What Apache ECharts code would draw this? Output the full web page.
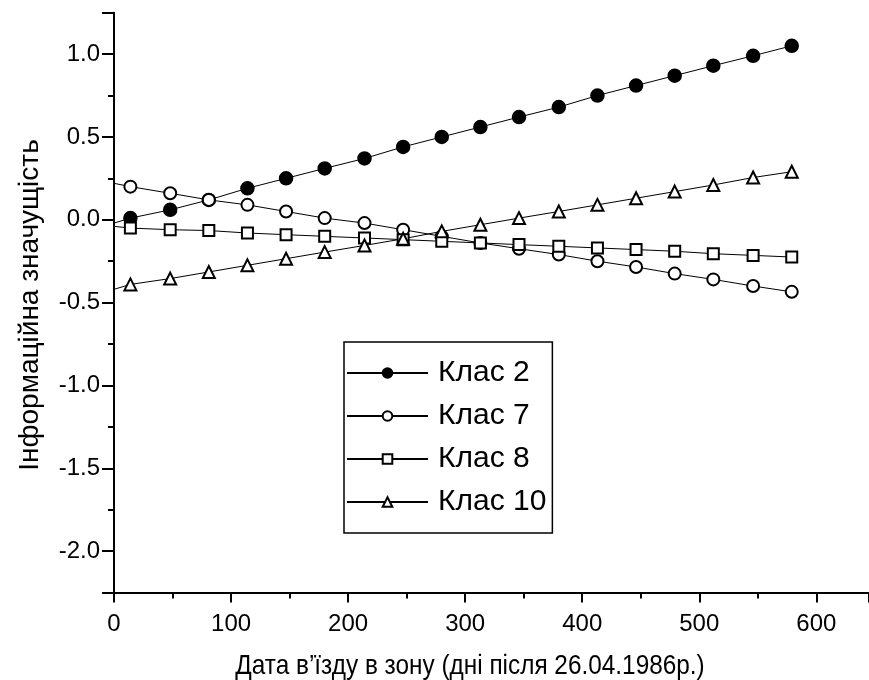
<!DOCTYPE html>
<html lang="uk">
<head>
  <meta charset="UTF-8">
  <script src="https://cdn.jsdelivr.net/npm/echarts@6/dist/echarts.min.js"></script>
  <style>
    html, body { margin: 0; padding: 0; background: #fff; }
    #chart { width: 869px; height: 680px; }
  </style>
</head>
<body>
  <div id="chart"></div>
  <script>
    // days after 26.04.1986 (first entry = start of the line at the axis, no marker)
    const days = [0, 14, 48, 81, 114, 147, 180, 214, 247, 280, 313, 346, 380, 413, 446, 479, 512, 546, 579];

    const class2 = [-0.02, 0.01, 0.06, 0.12, 0.19, 0.25, 0.31, 0.37, 0.44, 0.50, 0.56, 0.62, 0.68, 0.75, 0.81, 0.87, 0.93, 0.99, 1.05];
    const class7 = [0.22, 0.20, 0.16, 0.12, 0.09, 0.05, 0.01, -0.02, -0.06, -0.10, -0.14, -0.175, -0.21, -0.25, -0.285, -0.325, -0.36, -0.40, -0.435];
    const class8 = [-0.04, -0.05, -0.06, -0.065, -0.08, -0.09, -0.10, -0.11, -0.12, -0.13, -0.14, -0.15, -0.16, -0.17, -0.18, -0.19, -0.205, -0.215, -0.225];
    const class10 = [-0.42, -0.39, -0.355, -0.315, -0.275, -0.235, -0.195, -0.155, -0.115, -0.07, -0.03, 0.01, 0.05, 0.09, 0.13, 0.17, 0.21, 0.255, 0.29];

    const seriesNames = ['Клас 2', 'Клас 7', 'Клас 8', 'Клас 10'];
    const xTitle = 'Дата в’їзду в зону (дні після 26.04.1986р.)';
    const yTitle = 'Інформаційна значущість';

    const FONT = '"Liberation Sans", Arial, sans-serif';

    const chart = echarts.init(document.getElementById('chart'), null, { renderer: 'canvas' });

    function makeSeries(name, values, symbol, size) {
      return {
        name: name,
        type: 'line',
        data: days.map((d, i) => i === 0
          ? { value: [d, values[i]], symbol: 'none' }
          : [d, values[i]]),
        symbol: symbol,
        symbolSize: size,
        showAllSymbol: true,
        color: '#000',
        lineStyle: { color: '#000', width: 1 },
        itemStyle: { color: '#000', borderColor: '#000', borderWidth: 1.5 },
        emphasis: { disabled: true },
        animation: false
      };
    }

    const axisColor = { color: '#000', width: 2 };

    const option = {
      animation: false,
      textStyle: { fontFamily: FONT },
      grid: { left: 114, top: 12.7, width: 755, height: 579.8 },
      xAxis: {
        type: 'value',
        min: 0,
        max: 645,
        interval: 100,
        axisLine: { onZero: false, lineStyle: axisColor },
        axisTick: { inside: false, length: 10, lineStyle: axisColor },
        minorTick: { show: true, splitNumber: 2, length: 6, lineStyle: axisColor },
        axisLabel: { color: '#000', fontSize: 24, fontFamily: FONT, margin: 20, showMaxLabel: false },
        splitLine: { show: false }
      },
      yAxis: {
        type: 'value',
        min: -2.25,
        max: 1.25,
        splitNumber: 7,
        minInterval: 0.5,
        maxInterval: 0.5,
        axisLine: { onZero: false, lineStyle: axisColor },
        axisTick: { inside: false, length: 12, lineStyle: axisColor },
        minorTick: { show: true, splitNumber: 2, length: 6, lineStyle: axisColor },
        axisLabel: {
          color: '#000', fontSize: 24, fontFamily: FONT, margin: 14,
          showMinLabel: false, showMaxLabel: false,
          formatter: v => v.toFixed(1)
        },
        splitLine: { show: false }
      },
      legend: {
        orient: 'vertical',
        left: 344,
        top: 342,
        padding: [16, 6, 16, 2],
        itemWidth: 81,
        itemHeight: 12,
        itemGap: 13,
        borderColor: '#000',
        borderWidth: 1.5,
        borderRadius: 0,
        backgroundColor: '#fff',
        selectedMode: false,
        data: seriesNames,
        textStyle: { color: '#000', fontSize: 30, fontFamily: FONT, lineHeight: 30, padding: [0, 0, 0, 5] }
      },
      graphic: [
        {
          type: 'text',
          x: 470,
          y: 666,
          scaleX: 0.87,
          style: {
            text: xTitle, fill: '#000', font: '28px ' + FONT,
            align: 'center', verticalAlign: 'middle',
            textAlign: 'center', textVerticalAlign: 'middle'
          }
        },
        {
          type: 'text',
          x: 30,
          y: 305,
          rotation: Math.PI / 2,
          style: {
            text: yTitle, fill: '#000', font: '28px ' + FONT,
            align: 'center', verticalAlign: 'middle',
            textAlign: 'center', textVerticalAlign: 'middle'
          }
        }
      ],
      series: [
        makeSeries(seriesNames[0], class2, 'circle', 13),
        makeSeries(seriesNames[1], class7, 'emptyCircle', 12),
        makeSeries(seriesNames[2], class8, 'emptyRect', 11),
        makeSeries(seriesNames[3], class10, 'emptyTriangle', 12)
      ]
    };

    chart.setOption(option);
  </script>
</body>
</html>
